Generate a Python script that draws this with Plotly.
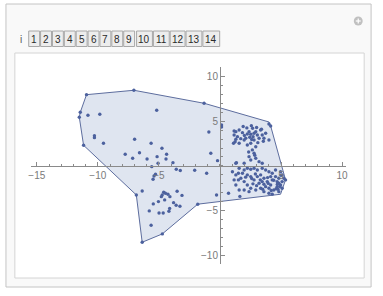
import plotly.graph_objects as go

# ---------------- data ----------------
pts_x_left = [-10.93, -7.05, -1.30, -11.44, -11.52, -10.81, -9.84, -5.18, -10.28, -10.28,
              -9.54, -11.17, -6.99, -5.64, -4.75, -7.76, -6.59, -7.15, -5.97, -5.15,
              -4.37, -4.42, -3.85, -5.59, -5.07, -3.58, -3.25, -2.07, -1.09, -0.91,
              -0.75, -0.20, -5.28, -5.40, -5.48, -6.37, -6.85, -4.61, -4.47, -4.73,
              -4.26, -4.80, -4.10, -3.51, -3.11, -5.04, -4.53, -5.46, -3.80, -3.59,
              -3.28, -5.79, -4.99, -4.65, -4.12, -4.18, -5.64, -4.72, -6.37, -1.82,
              -0.28, 0.70, 1.63, 0.13, 0.13]
pts_y_left = [7.96, 8.45, 7.00, 5.99, 5.44, 5.66, 5.77, 6.22, 3.38, 3.16,
              2.53, 2.31, 2.98, 2.53, 1.98, 1.31, 1.48, 0.86, 0.78, 1.04,
              1.31, 0.78, 0.37, -0.08, 0.30, -0.37, -0.50, -0.48, -0.81, 3.79,
              1.42, 0.59, -0.93, -1.12, -1.48, -2.79, -3.24, -2.94, -3.05, -3.24,
              -3.16, -3.43, -3.43, -2.82, -3.29, -3.98, -3.79, -4.24, -4.10, -4.39,
              -4.50, -5.02, -5.25, -5.25, -4.74, -5.06, -6.62, -7.59, -8.52, -4.27,
              -3.24, -3.05, -3.40, 4.58, 4.35]

pts_x_upper = [2.57, 2.67, 2.38, 2.24, 2.52, 2.79, 2.93, 3.06, 2.71, 2.44,
               2.11, 1.84, 1.57, 1.30, 1.16, 1.43, 1.24, 1.57, 1.98, 2.24,
               2.52, 2.79, 3.20, 3.46, 3.33, 3.74, 3.60, 4.01, 2.93, 2.65,
               2.79, 2.38, 2.52, 2.93, 3.20, 3.46, 1.98, 1.30, 4.01, 4.15,
               1.16, 1.30, 1.11, 1.35, 3.00, 3.40, 2.20, 1.90, 3.10, 2.60,
               2.00, 1.70, 3.55, 2.85, 2.35]
pts_y_upper = [4.50, 4.21, 3.83, 3.57, 3.54, 3.65, 3.83, 3.46, 3.27, 3.20,
               3.09, 3.72, 4.02, 3.83, 3.46, 3.27, 2.71, 2.53, 2.90, 2.34,
               2.53, 2.90, 3.09, 3.46, 4.02, 3.65, 3.09, 2.90, 2.15, 1.79,
               1.42, 1.04, 0.67, 0.86, 0.48, 0.30, 0.30, 0.30, 4.69, 4.46,
               3.91, 2.98, 2.53, 0.37, 4.30, 4.10, 4.25, 4.40, 2.60, 2.95,
               3.40, 3.05, 2.75, 1.20, 1.55]

pts_x_lower = [1.57, 1.98, 2.24, 2.52, 2.79, 3.06, 3.46, 3.74, 4.01, 4.28,
               4.55, 4.96, 5.09, 5.23, 5.37, 5.09, 4.82, 4.68, 5.09, 4.82,
               4.41, 4.15, 3.87, 3.60, 3.33, 3.06, 2.79, 2.52, 2.24, 1.84,
               1.71, 1.98, 2.24, 2.52, 2.93, 3.33, 3.60, 4.01, 4.28, 3.74,
               3.20, 3.46, 4.28, 4.55, 4.68, 4.15, 4.82, 4.96, 4.01, 2.38,
               1.98, 1.57, 1.30, 1.16, 1.30, 1.02, 1.51, 1.51, 3.90, 4.40,
               4.70, 4.90, 3.00, 3.60, 2.60, 2.10, 4.20, 4.60, 3.30, 2.90,
               5.00, 4.75, 3.95, 3.50, 2.70]
pts_y_lower = [-0.26, -0.45, -0.26, -0.37, -0.26, -0.45, -0.26, -0.45, -0.64, -0.81,
               -0.45, -0.64, -1.00, -1.37, -1.56, -1.75, -1.93, -2.31, -2.49, -2.87,
               -2.68, -2.12, -1.75, -1.37, -1.00, -1.19, -1.56, -1.19, -1.00, -0.81,
               -1.37, -1.75, -2.12, -2.49, -2.68, -2.49, -2.87, -3.05, -3.15, -2.31,
               -1.93, -1.75, -1.56, -1.19, -1.75, -1.19, -1.37, -2.12, -2.49, -2.87,
               -2.68, -2.68, -2.12, -1.56, -1.00, -0.64, -0.81, -1.56, -1.30, -1.60,
               -2.05, -2.30, -2.20, -2.05, -1.40, -1.25, -2.75, -2.55, -1.55, -0.90,
               -1.05, -2.60, -1.95, -2.60, -2.00]

# boundary polygon (vertices in order)
poly_x = [-10.93, -7.05, -1.30, 4.01, 4.15, 5.04, 5.37, 4.96, -1.82, -4.72,
          -6.37, -6.85, -11.17, -11.52, -11.44]
poly_y = [7.96, 8.45, 7.00, 4.91, 4.46, -0.08, -1.56, -3.16, -4.27, -7.59,
          -8.52, -3.24, 2.31, 5.44, 5.99]

xs = pts_x_left + pts_x_upper + pts_x_lower
ys = pts_y_left + pts_y_upper + pts_y_lower

x_ticks = [-15, -10, -5, 5, 10]
y_ticks = [-10, -5, 5, 10]
button_labels = [str(i) for i in range(1, 15)]

# ---------------- layout geometry ----------------
W, H = 383, 296
XR = [-15.5, 10.35]
YR = [-10.95, 11.05]
plot_l, plot_r, plot_t, plot_b = 29, 348, 67, 264

def fx(p):
    return p / W

def fy(p):
    return 1 - p / H

xdom = [fx(plot_l), fx(plot_r)]
ydom = [fy(plot_b), fy(plot_t)]
x_axis_pos = ydom[0] + (0 - YR[0]) / (YR[1] - YR[0]) * (ydom[1] - ydom[0])
y_axis_pos = xdom[0] + (0 - XR[0]) / (XR[1] - XR[0]) * (xdom[1] - xdom[0])

fig = go.Figure()
fig.add_trace(go.Scatter(x=poly_x + poly_x[:1], y=poly_y + poly_y[:1], mode="lines", fill="toself",
                         fillcolor="#dfe5f0", line=dict(color="#5d6d9e", width=1),
                         hoverinfo="skip", showlegend=False))
fig.add_trace(go.Scatter(x=xs, y=ys, mode="markers",
                         marker=dict(size=3.4, color="#4c619e", line=dict(width=0)),
                         showlegend=False))

axis_col = "#8a8a8a"
lab_col = "#7a7a7a"
fig.update_layout(
    width=W, height=H,
    margin=dict(l=0, r=0, t=0, b=0),
    paper_bgcolor="#ffffff", plot_bgcolor="rgba(0,0,0,0)",
    font=dict(family="Liberation Sans, Arial, sans-serif", size=10, color=lab_col),
    xaxis=dict(range=XR, domain=xdom, anchor="free", position=x_axis_pos,
               showgrid=False, zeroline=False, showline=True, linecolor=axis_col, linewidth=1,
               tickmode="array", tickvals=x_ticks, ticktext=[str(v).replace("-", "\u2212") for v in x_ticks],
               ticks="inside", ticklen=4, tickcolor=axis_col, tickfont=dict(size=10, color=lab_col),
               minor=dict(ticks="inside", ticklen=2, dtick=1, tick0=0, tickcolor=axis_col, showgrid=False),
               fixedrange=True),
    yaxis=dict(range=YR, domain=ydom, anchor="free", position=y_axis_pos,
               showgrid=False, zeroline=False, showline=True, linecolor=axis_col, linewidth=1,
               tickmode="array", tickvals=y_ticks, ticktext=[str(v).replace("-", "\u2212") for v in y_ticks],
               ticks="inside", ticklen=4, tickcolor=axis_col, tickfont=dict(size=10, color=lab_col),
               minor=dict(ticks="inside", ticklen=2, dtick=1, tick0=0, tickcolor=axis_col, showgrid=False),
               fixedrange=True),
)

shapes = []
annos = []
# outer panel
shapes.append(dict(type="rect", xref="paper", yref="paper", layer="below",
                   x0=fx(4), x1=fx(373), y0=fy(287), y1=fy(4),
                   fillcolor="#f9f9f9", line=dict(color="#c4c4c4", width=1)))
# inner content frame
shapes.append(dict(type="rect", xref="paper", yref="paper", layer="below",
                   x0=fx(13), x1=fx(366), y0=fy(278), y1=fy(53),
                   fillcolor="#ffffff", line=dict(color="#d4d4d4", width=1)))
# buttons
btn_edges = [(27, 38), (39, 50), (51, 62), (63, 74), (75, 86), (87, 98), (99, 110),
             (111, 122), (123, 134), (136, 152), (153, 169), (170, 185), (186, 202), (203, 220)]
for lab, (a, b) in zip(button_labels, btn_edges):
    shapes.append(dict(type="rect", xref="paper", yref="paper",
                       x0=fx(a), x1=fx(b), y0=fy(46.5), y1=fy(31),
                       fillcolor="#ededed", line=dict(color="#a8a8a8", width=1)))
    annos.append(dict(xref="paper", yref="paper", x=fx((a + b) / 2), y=fy(39),
                      text=lab, showarrow=False, xanchor="center", yanchor="middle",
                      font=dict(size=10, color="#2a2a2a", family="Liberation Sans, Arial, sans-serif")))
annos.append(dict(xref="paper", yref="paper", x=fx(19), y=fy(39), text="i", showarrow=False,
                  xanchor="center", yanchor="middle",
                  font=dict(size=10, color="#555555", family="Liberation Sans, Arial, sans-serif")))
# plus icon
shapes.append(dict(type="circle", xref="paper", yref="paper",
                   x0=fx(355.5), x1=fx(364.5), y0=fy(25.5), y1=fy(16.5),
                   fillcolor="#c0c0c0", line=dict(width=0)))
shapes.append(dict(type="line", xref="paper", yref="paper",
                   x0=fx(357.5), x1=fx(362.5), y0=fy(21), y1=fy(21), line=dict(color="#ffffff", width=1.2)))
shapes.append(dict(type="line", xref="paper", yref="paper",
                   x0=fx(360), x1=fx(360), y0=fy(18.5), y1=fy(23.5), line=dict(color="#ffffff", width=1.2)))

fig.update_layout(shapes=shapes, annotations=annos)
fig.write_html("out.html")
